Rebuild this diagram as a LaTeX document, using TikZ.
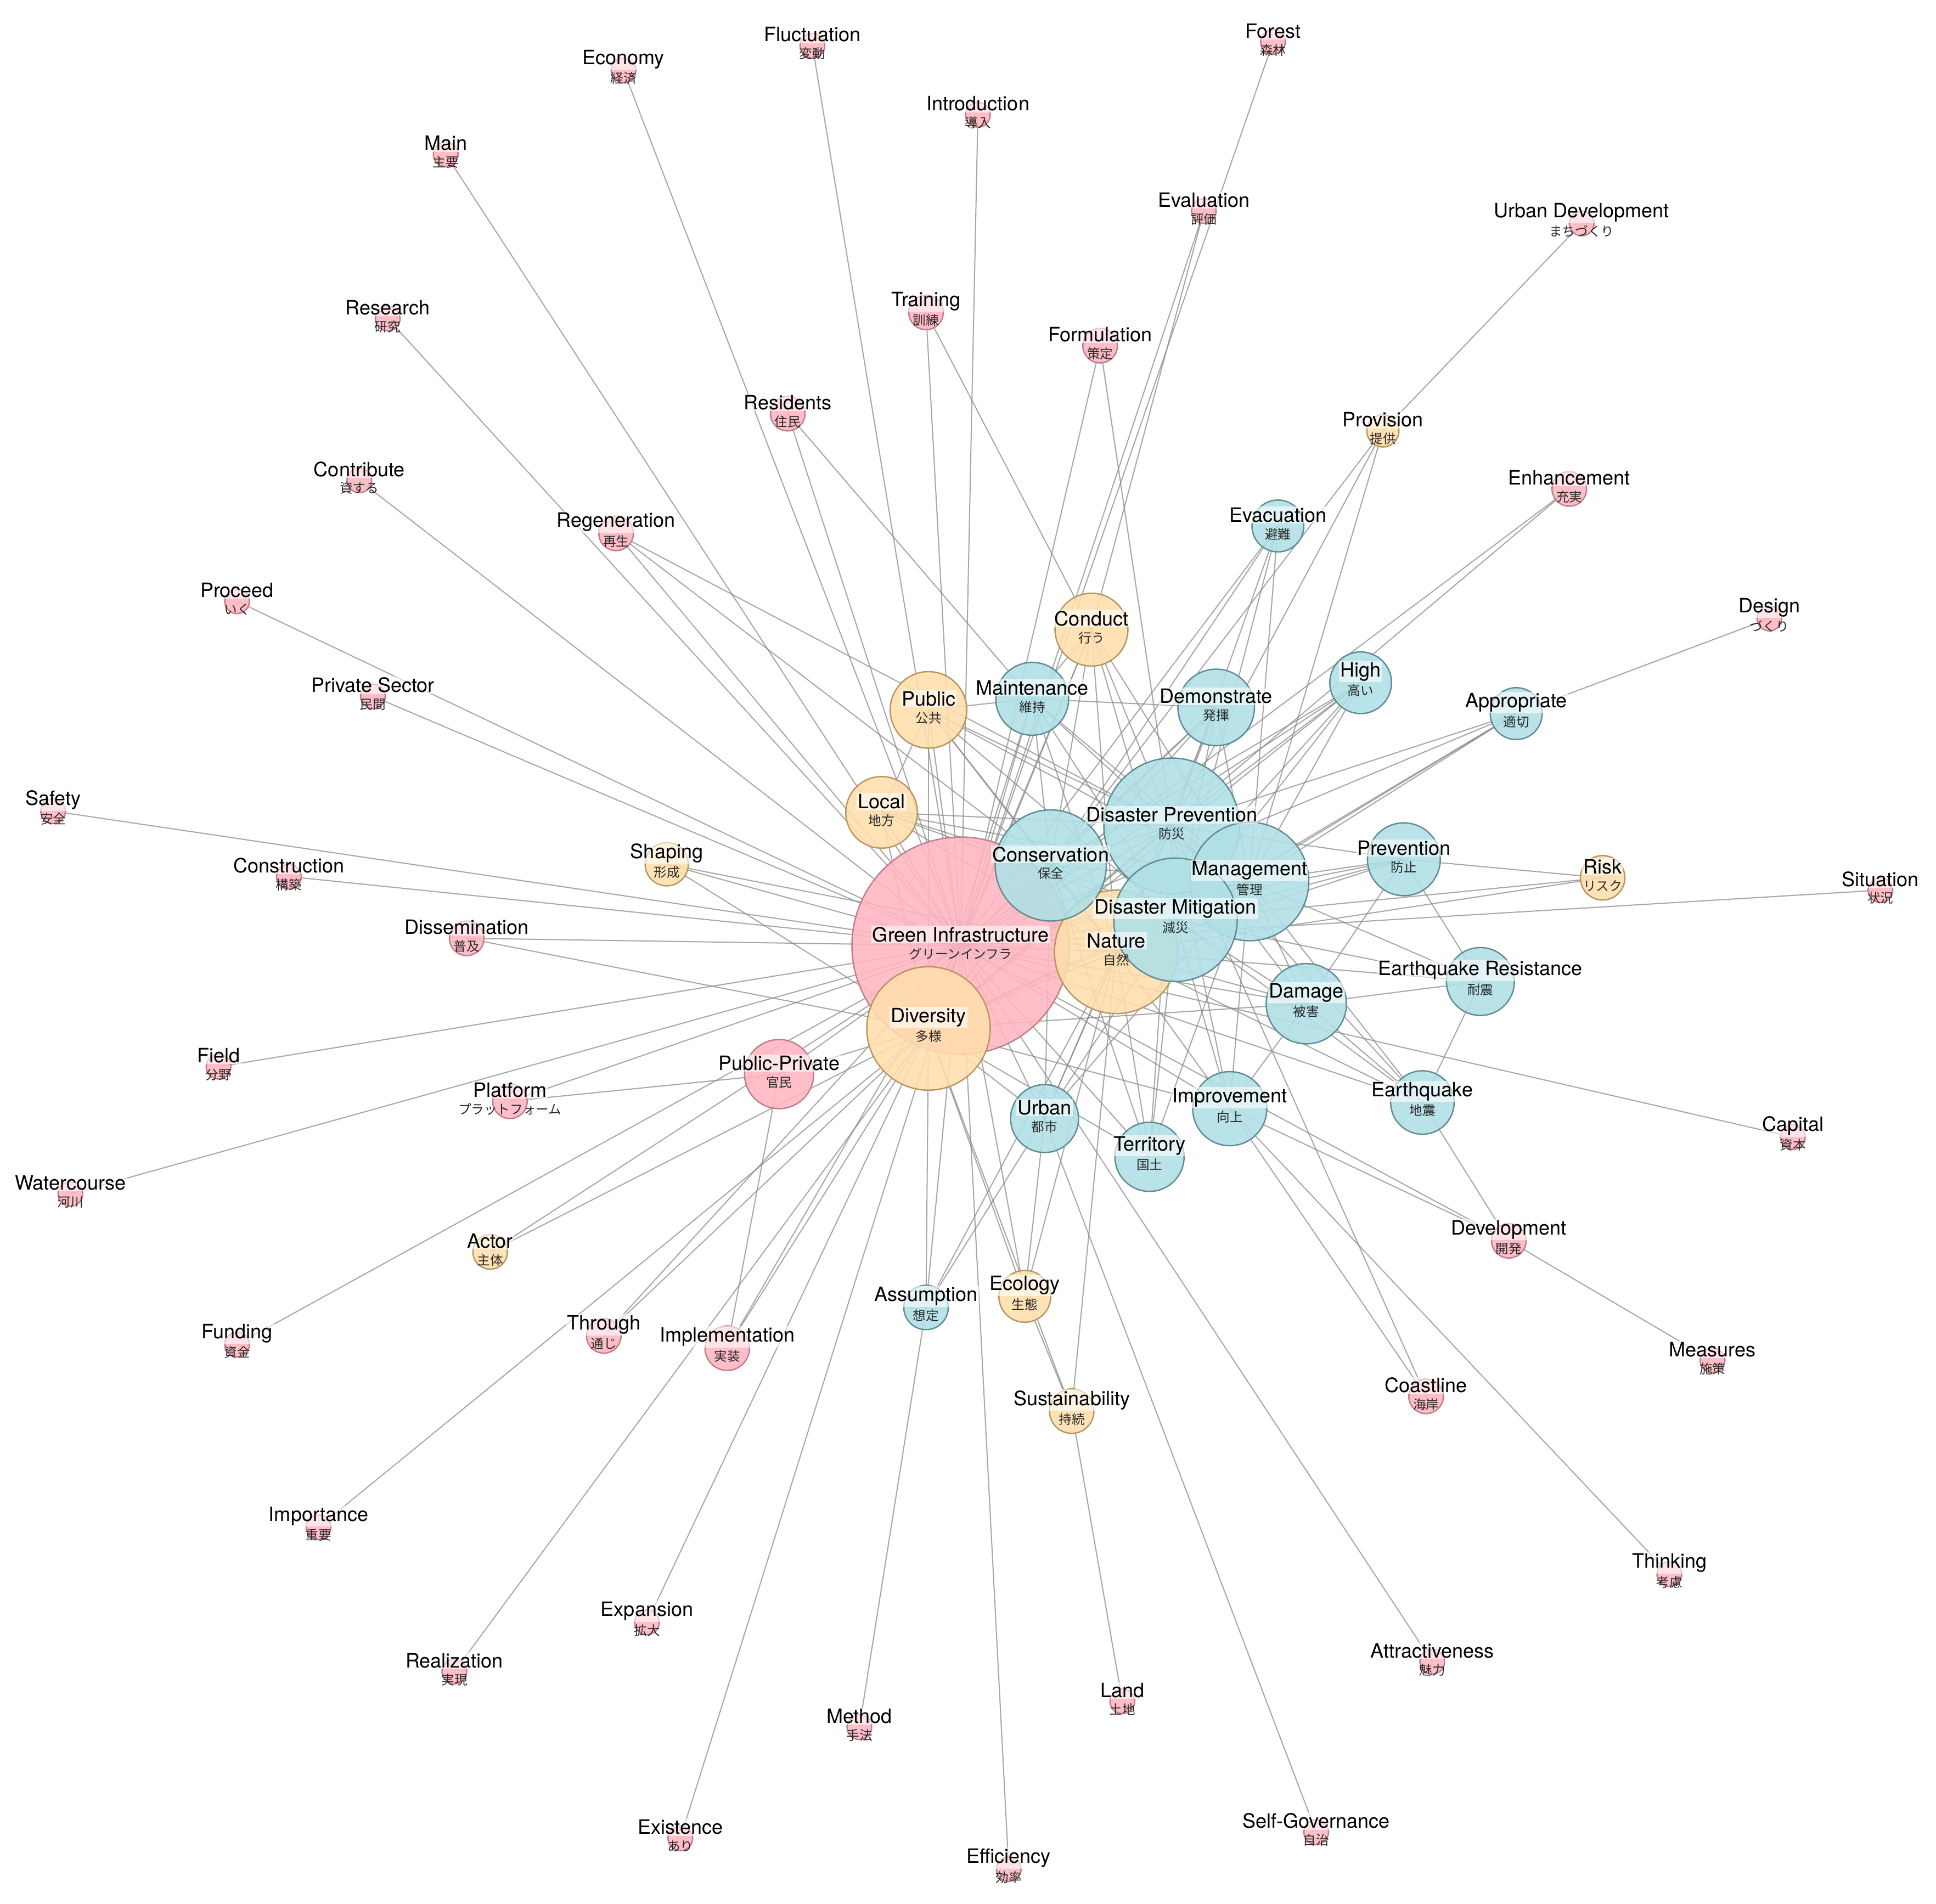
\documentclass[tikz,border=0pt]{standalone}
\usepackage{fontspec}
\setmainfont{TeX Gyre Heros}
\newfontfamily\jpfont{Noto Sans CJK JP}
\pgfdeclarelayer{bg}
\pgfdeclarelayer{edges}
\pgfdeclarelayer{labels}
\pgfsetlayers{bg,edges,main,labels}
\definecolor{pinkF}{HTML}{FFB6C1}
\definecolor{pinkD}{HTML}{C27D89}
\definecolor{blueF}{HTML}{B0E0E6}
\definecolor{blueD}{HTML}{5E8C92}
\definecolor{orngF}{HTML}{FFDEAD}
\definecolor{orngD}{HTML}{B8955F}
\definecolor{edgeC}{HTML}{8A8A8A}
\tikzset{
  nd/.style={circle, draw, line width=1.1pt, inner sep=0pt, fill opacity=0.88},
  pk/.style={nd, fill=pinkF, draw=pinkD},
  bl/.style={nd, fill=blueF, draw=blueD},
  og/.style={nd, fill=orngF, draw=orngD},
  en/.style={font=\fontsize{16}{18}\selectfont, fill=white, fill opacity=0.6, text opacity=1, inner sep=1pt, text=black},
  jp/.style={font=\jpfont\fontsize{10.5}{12}\selectfont, inner sep=0pt, text=black!85},
  lnk/.style={draw=edgeC, line width=0.9pt, draw opacity=0.75},
}
\newcommand\kwnode[7]{%
  \node[#5, minimum size=2*#4pt] (#1) at (#2,#3) {};
  \begin{pgfonlayer}{labels}
    \node[en] at (#2,#3-9) {#6};
    \node[jp] at (#2,#3+6.5) {#7};
  \end{pgfonlayer}}
\begin{document}
\begin{tikzpicture}[x=1pt,y=-1pt]
\begin{pgfonlayer}{bg}
\fill[white] (0,0) rectangle (1568,1542);
\end{pgfonlayer}
\useasboundingbox (0,0) rectangle (1568,1542);
% peripheral small nodes
\kwnode{Fluc}{658}{37}{10}{pk}{Fluctuation}{変動}
\kwnode{Econ}{505}{57}{10}{pk}{Economy}{経済}
\kwnode{Forest}{1031}{34}{10}{pk}{Forest}{森林}
\kwnode{Intro}{792}{93}{10}{pk}{Introduction}{導入}
\kwnode{Main}{361}{125}{10}{pk}{Main}{主要}
\kwnode{Eval}{975}{171}{10}{pk}{Evaluation}{評価}
\kwnode{UDev}{1281}{181}{10}{pk}{Urban Development}{まちづくり}
\kwnode{Rsch}{314}{258}{10}{pk}{Research}{研究}
\kwnode{Contr}{291}{389}{10}{pk}{Contribute}{資する}
\kwnode{Proc}{192}{487}{10}{pk}{Proceed}{いく}
\kwnode{Design}{1433}{501}{10}{pk}{Design}{づくり}
\kwnode{PSec}{302}{564}{10}{pk}{Private Sector}{民間}
\kwnode{Safety}{43}{657}{10}{pk}{Safety}{安全}
\kwnode{Constr}{234}{710}{10}{pk}{Construction}{構築}
\kwnode{Sit}{1523}{721}{10}{pk}{Situation}{状況}
\kwnode{Field}{177}{864}{10}{pk}{Field}{分野}
\kwnode{Capital}{1452}{921}{10}{pk}{Capital}{資本}
\kwnode{Water}{57}{967}{10}{pk}{Watercourse}{河川}
\kwnode{Fund}{192}{1089}{10}{pk}{Funding}{資金}
\kwnode{Meas}{1387}{1102}{10}{pk}{Measures}{施策}
\kwnode{Imp}{258}{1237}{10}{pk}{Importance}{重要}
\kwnode{Think}{1352}{1275}{10}{pk}{Thinking}{考慮}
\kwnode{Expn}{524}{1314}{10}{pk}{Expansion}{拡大}
\kwnode{Attr}{1160}{1346}{10}{pk}{Attractiveness}{魅力}
\kwnode{Real}{368}{1354}{10}{pk}{Realization}{実現}
\kwnode{Land}{909}{1378}{10}{pk}{Land}{土地}
\kwnode{Meth}{696}{1399}{10}{pk}{Method}{手法}
\kwnode{Exist}{551}{1489}{10}{pk}{Existence}{あり}
\kwnode{SGov}{1066}{1484}{10}{pk}{Self-Governance}{自治}
\kwnode{Effic}{817}{1514}{10}{pk}{Efficiency}{効率}
% medium
\kwnode{Trn}{750}{253}{14}{pk}{Training}{訓練}
\kwnode{Form}{891}{280}{14}{pk}{Formulation}{策定}
\kwnode{Res}{638}{335}{14}{pk}{Residents}{住民}
\kwnode{Prov}{1120}{349}{13}{og}{Provision}{提供}
\kwnode{Enh}{1271}{396}{14}{pk}{Enhancement}{充実}
\kwnode{Regen}{499}{432}{14}{pk}{Regeneration}{再生}
\kwnode{Diss}{378}{760}{14}{pk}{Dissemination}{普及}
\kwnode{Plat}{413}{892}{14}{pk}{Platform}{プラットフォーム}
\kwnode{Dev}{1222}{1005}{14}{pk}{Development}{開発}
\kwnode{Actor}{397}{1014}{14}{og}{Actor}{主体}
\kwnode{Thr}{489}{1082}{14}{pk}{Through}{通じ}
\kwnode{Coast}{1155}{1131}{14}{pk}{Coastline}{海岸}
\kwnode{Evac}{1035}{426}{21}{bl}{Evacuation}{避難}
\kwnode{Shp}{540}{700}{17.5}{og}{Shaping}{形成}
\kwnode{Assm}{750}{1059}{18}{bl}{Assumption}{想定}
\kwnode{Eco}{830}{1050}{21}{og}{Ecology}{生態}
\kwnode{Impl}{589}{1092}{18}{pk}{Implementation}{実装}
\kwnode{Sust}{868}{1143}{18}{og}{Sustainability}{持続}
\kwnode{Risk}{1298}{711}{18}{og}{Risk}{リスク}
\kwnode{Appr}{1228}{578}{21}{bl}{Appropriate}{適切}
\kwnode{High}{1102}{553}{25}{bl}{High}{高い}
\kwnode{EQ}{1152}{893}{25.7}{bl}{Earthquake}{地震}
\kwnode{EQR}{1199}{795}{27.5}{bl}{Earthquake Resistance}{耐震}
\kwnode{Prev}{1137}{696}{29.5}{bl}{Prevention}{防止}
\kwnode{Dmg}{1058}{813}{32.5}{bl}{Damage}{被害}
\kwnode{Impr}{996}{898}{30}{bl}{Improvement}{向上}
\kwnode{Terr}{931}{937}{28}{bl}{Territory}{国土}
\kwnode{Urb}{846}{906}{27.5}{bl}{Urban}{都市}
\kwnode{PP}{631}{870}{28}{pk}{Public-Private}{官民}
\kwnode{Loc}{714}{658}{29}{og}{Local}{地方}
\kwnode{Pub}{752}{575}{31}{og}{Public}{公共}
\kwnode{Mnt}{836}{566}{29.5}{bl}{Maintenance}{維持}
\kwnode{Cond}{884}{510}{29.5}{og}{Conduct}{行う}
\kwnode{Dem}{985}{573}{31}{bl}{Demonstrate}{発揮}
% core
\kwnode{GI}{778}{766}{88}{pk}{Green Infrastructure}{グリーンインフラ}
\kwnode{Nat}{904}{771}{50}{og}{Nature}{自然}
\kwnode{Div}{752}{833}{50}{og}{Diversity}{多様}
\kwnode{Cons}{851}{701}{45}{bl}{Conservation}{保全}
\kwnode{DP}{949}{669}{55}{bl}{Disaster Prevention}{防災}
\kwnode{Mgmt}{1012}{714}{48}{bl}{Management}{管理}
\kwnode{DM}{952}{745}{50}{bl}{Disaster Mitigation}{減災}
\begin{pgfonlayer}{edges}
\foreach \a/\b in {Fluc/GI, Econ/GI, Forest/GI, Intro/GI, Main/GI, Eval/GI, Eval/Cond, UDev/Prov, Rsch/GI, Trn/GI, Trn/Cond, Form/GI, Form/DP, Res/GI, Res/Mnt, Prov/Cons, Prov/DP, Prov/Mgmt, Contr/GI, Enh/GI, Enh/Div, Regen/GI, Regen/Cons, Regen/DP, Evac/GI, Evac/Cons, Evac/DP, Evac/DM, Evac/Mgmt, Proc/GI, Design/Appr, PSec/GI, Safety/GI, Constr/GI, Diss/GI, Diss/Div, Sit/GI, Field/GI, Plat/GI, Plat/PP, Capital/GI, Water/GI, Dev/GI, Dev/Impr, Dev/EQ, Meas/Dev, Actor/GI, Actor/Div, Thr/GI, Thr/Div, Fund/GI, Impl/PP, Impl/Div, Impl/GI, Coast/DP, Coast/Impr, Think/Impr, Sust/Div, Sust/Nat, Sust/Eco, Land/Sust, Imp/Div, Expn/Div, Attr/GI, Real/Div, Meth/Assm, Exist/GI, SGov/Urb, Effic/GI}
  \draw[lnk] (\a.center) -- (\b.center);
\foreach \a/\b in {GI/Div, GI/Nat, GI/Cons, GI/DP, GI/Mgmt, GI/DM, Div/Nat, Div/Cons, Div/DP, Div/Mgmt, Div/DM, Nat/Cons, Nat/DP, Nat/Mgmt, Nat/DM, Cons/DP, Cons/Mgmt, Cons/DM, DP/Mgmt, DP/DM, Mgmt/DM,
 Cond/GI, Cond/Div, Cond/Nat, Cond/Cons, Cond/DP, Cond/DM, Cond/Mgmt, Cond/Mnt,
 Pub/GI, Pub/Div, Pub/Nat, Pub/Cons, Pub/DP, Pub/Mgmt, Pub/DM, Pub/Loc, Pub/Mnt,
 Mnt/GI, Mnt/Div, Mnt/Nat, Mnt/Cons, Mnt/DP, Mnt/DM, Mnt/Mgmt, Mnt/Dem,
 Dem/GI, Dem/Div, Dem/Nat, Dem/Cons, Dem/DP, Dem/Mgmt, Dem/DM,
 Loc/GI, Loc/Div, Loc/Nat, Loc/Cons, Loc/DP, Loc/Mgmt, Loc/DM,
 High/GI, High/Nat, High/Cons, High/DP, High/Mgmt, High/DM, High/Div,
 Dmg/GI, Dmg/Nat, Dmg/DP, Dmg/Mgmt, Dmg/DM, Dmg/EQR, Dmg/EQ, Dmg/Prev, Dmg/Div, Dmg/Impr,
 Appr/DP, Appr/Mgmt, Appr/DM, Appr/GI, Appr/Nat,
 Prev/GI, Prev/Nat, Prev/DP, Prev/Mgmt, Prev/DM, Prev/Risk, Prev/EQR,
 Risk/DM, Risk/Nat,
 EQR/EQ, EQR/Mgmt, EQR/DM, EQR/Nat,
 EQ/DM, EQ/Mgmt, EQ/DP, EQ/Nat, EQ/GI,
 Impr/GI, Impr/Nat, Impr/DP, Impr/Mgmt, Impr/DM, Impr/Div,
 Terr/GI, Terr/Nat, Terr/DP, Terr/Mgmt, Terr/DM, Terr/Cons, Terr/Div,
 PP/GI, PP/Div,
 Urb/GI, Urb/Nat, Urb/Div, Urb/DP, Urb/Mgmt, Urb/DM, Urb/Cons,
 Assm/GI, Assm/Div, Assm/Nat, Assm/Urb,
 Eco/GI, Eco/Div, Eco/Nat, Eco/Urb,
 Shp/GI, Shp/Nat, Shp/Div}
  \draw[lnk] (\a.center) -- (\b.center);
\end{pgfonlayer}
\end{tikzpicture}
\end{document}
